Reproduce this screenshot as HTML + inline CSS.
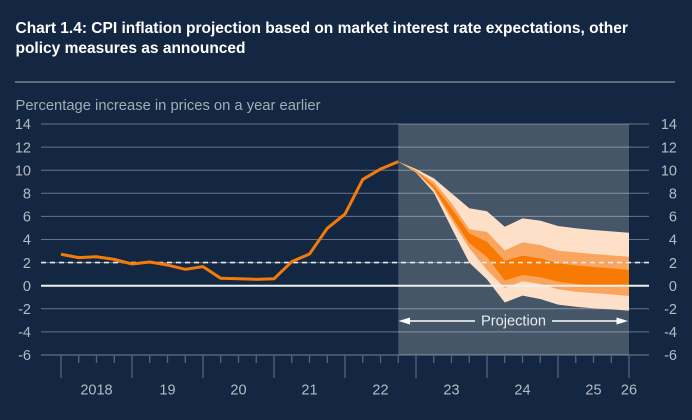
<!DOCTYPE html>
<html lang="en">
<head>
<meta charset="utf-8">
<title>CPI inflation projection</title>
<style>
html,body{margin:0;padding:0;background:#132742;width:692px;height:420px;overflow:hidden}
svg{display:block;font-family:"Liberation Sans",Arial,sans-serif}
</style>
</head>
<body>
<svg id="chart" width="692" height="420" viewBox="0 0 692 420" xmlns="http://www.w3.org/2000/svg">
  <rect x="0" y="0" width="692" height="420" fill="#132742"/>
  <text x="15.500" y="33" font-size="15.500" font-weight="700" fill="#ffffff">Chart 1.4: CPI inflation projection based on market interest rate expectations, other</text>
  <text x="15.500" y="53" font-size="15.500" font-weight="700" fill="#ffffff">policy measures as announced</text>
  <line x1="15" x2="675" y1="82" y2="82" stroke="#a9b1bb" stroke-width="1"/>
  <text x="15.500" y="110" font-size="14.750" fill="#a4acb7">Percentage increase in prices on a year earlier</text>
</svg>
<script>
var yTicks = [14, 12, 10, 8, 6, 4, 2, 0, -2, -4, -6];
var quarterCount = 33;
var yearLabels = ['2018', '19', '20', '21', '22', '23', '24', '25', '26'];
var yearLabelQuarters = [2, 6, 10, 14, 18, 22, 26, 30, 32];
var inflationTarget = 2;
var projectionStartQuarter = 19;
var projectionEndQuarter = 32;
var cpiHistory = [2.72, 2.43, 2.51, 2.28, 1.88, 2.05, 1.79, 1.42, 1.65, 0.64, 0.6, 0.55, 0.6, 2.08, 2.74, 4.97, 6.2, 9.2, 10.1, 10.74];
var outerUpper = [10.74, 10.1, 9.3, 8.0, 6.7, 6.45, 5.1, 5.83, 5.63, 5.17, 4.97, 4.82, 4.7, 4.59];
var middleUpper = [10.74, 10.0, 9.0, 7.15, 4.9, 4.65, 3.05, 3.75, 3.52, 3.03, 2.89, 2.74, 2.63, 2.51];
var innerUpper = [10.74, 9.96, 8.7, 6.7, 4.53, 3.8, 2.15, 2.6, 2.37, 1.94, 1.76, 1.62, 1.5, 1.36];
var innerLower = [10.74, 9.9, 8.45, 6.0, 3.67, 2.5, 0.45, 0.93, 0.73, 0.35, 0.15, 0.02, -0.05, -0.1];
var middleLower = [10.74, 9.85, 8.3, 5.7, 3.26, 1.36, -0.2, 0.38, 0.15, -0.31, -0.52, -0.64, -0.75, -0.89];
var outerLower = [10.74, 9.8, 8.08, 5.0, 2.0, 0.55, -1.45, -0.86, -1.15, -1.64, -1.82, -1.96, -2.05, -2.16];

var svg = document.getElementById('chart');
var NS = 'http://www.w3.org/2000/svg';
function xScale(q) { return 61 + q * (629 - 61) / (quarterCount - 1); }
function yScale(v) { return 124 + (14 - v) * (355 - 124) / 20; }
function make(tag, attrs, parent) {
  var el = document.createElementNS(NS, tag);
  for (var k in attrs) el.setAttribute(k, attrs[k]);
  (parent || svg).appendChild(el);
  return el;
}
function bandPath(upper, lower) {
  var pts = [];
  upper.forEach(function (v, i) { pts.push(xScale(projectionStartQuarter + i).toFixed(2) + ',' + yScale(v).toFixed(2)); });
  for (var i = lower.length - 1; i >= 0; i--) pts.push(xScale(projectionStartQuarter + i).toFixed(2) + ',' + yScale(lower[i]).toFixed(2));
  return pts.join(' ');
}

var shade = make('rect', { x: xScale(projectionStartQuarter), y: yScale(14), width: xScale(projectionEndQuarter) - xScale(projectionStartQuarter), height: yScale(-6) - yScale(14), fill: '#465669' });



yTicks.forEach(function (t) {
  if (t === 0) return;
  var grid = make('line', { x1: 41, x2: 649, y1: yScale(t), y2: yScale(t), stroke: '#ffffff', 'stroke-opacity': t === -6 ? 0.28 : 0.36, 'stroke-width': t === -6 ? 1.5 : 1 });
  
  
});

yTicks.forEach(function (t) {
  var left = make('text', { x: 31, y: yScale(t), dy: '0.36em', 'text-anchor': 'end', 'font-size': 14.5, fill: '#b4bbc5' });
  left.textContent = String(t);
  
  
  var right = make('text', { x: 677, y: yScale(t), dy: '0.36em', 'text-anchor': 'end', 'font-size': 14.5, fill: '#b4bbc5' });
  right.textContent = String(t);
  
  
});

for (var q = 0; q < quarterCount; q++) {
  var major = q % 4 === 0;
  var tick = make('line', { x1: xScale(q), x2: xScale(q), y1: yScale(-6), y2: yScale(-6) + (major ? 23 : 8), stroke: '#55647a', 'stroke-width': 1.3 });
  
  
}

yearLabels.forEach(function (label, i) {
  var t = make('text', { x: xScale(yearLabelQuarters[i]), y: 394.5, 'text-anchor': 'middle', 'font-size': 14.5, fill: '#b4bbc5' });
  t.textContent = label;
  
  
});

var outerBand = make('polygon', { points: bandPath(outerUpper, outerLower), fill: '#fde0c7' });


var middleBand = make('polygon', { points: bandPath(middleUpper, middleLower), fill: '#f9a55f' });


var innerBand = make('polygon', { points: bandPath(innerUpper, innerLower), fill: '#f97a03' });



var targetLine = make('line', { x1: 41, x2: 649, y1: yScale(inflationTarget), y2: yScale(inflationTarget), stroke: '#e6eaee', 'stroke-width': 1.6, 'stroke-dasharray': '5 4' });


var zeroLine = make('line', { x1: 41, x2: 649, y1: yScale(0), y2: yScale(0), stroke: '#eef0ee', 'stroke-width': 2 });



var historyLine = make('polyline', {
  points: cpiHistory.map(function (v, i) { return xScale(i).toFixed(2) + ',' + yScale(v).toFixed(2); }).join(' '),
  fill: 'none', stroke: '#f47a0c', 'stroke-width': 3, 'stroke-linejoin': 'round'
});



var arrowY = 321;
var leftArrowLine = make('line', { x1: 408, x2: 475, y1: arrowY, y2: arrowY, stroke: '#ffffff', 'stroke-width': 1.6 });


var leftArrowHead = make('polygon', { points: '398.5,321 410,317.5 410,324.5', fill: '#ffffff' });


var rightArrowLine = make('line', { x1: 552, x2: 618, y1: arrowY, y2: arrowY, stroke: '#ffffff', 'stroke-width': 1.6 });


var rightArrowHead = make('polygon', { points: '628,321 616.500,317.5 616.500,324.5', fill: '#ffffff' });


var projectionLabel = make('text', { x: 513.5, y: 325.5, 'text-anchor': 'middle', 'font-size': 14.6, fill: '#e8ebee' });
projectionLabel.textContent = 'Projection';


</script>
</body>
</html>
